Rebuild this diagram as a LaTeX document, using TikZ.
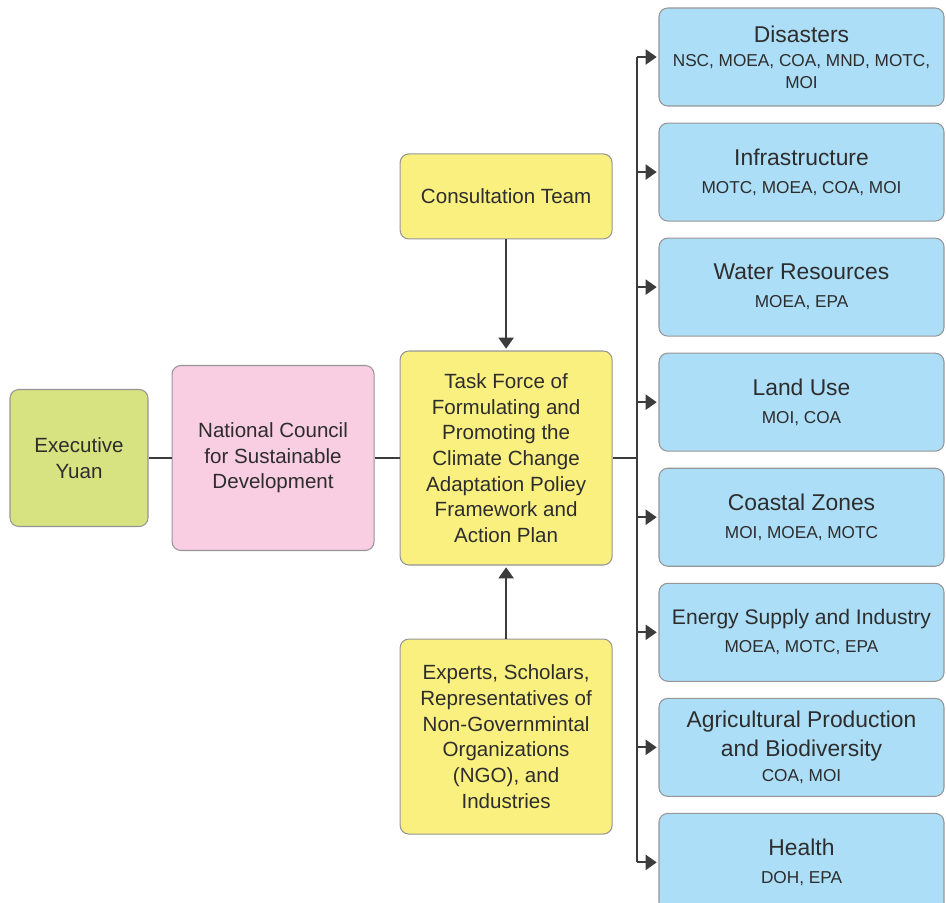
\documentclass[tikz,border=0pt]{standalone}
\usepackage{fontspec}
\setmainfont{Liberation Sans}
\usetikzlibrary{positioning}
\usetikzlibrary{arrows.meta}

\definecolor{eygreen}{RGB}{214,227,128}
\definecolor{ncpink}{RGB}{249,205,226}
\definecolor{tfyellow}{RGB}{250,240,128}
\definecolor{areablue}{RGB}{173,222,247}
\definecolor{boxedge}{RGB}{150,150,150}
\definecolor{txtgray}{RGB}{45,45,45}
\definecolor{linegray}{RGB}{60,60,60}

\newcommand{\areatitle}[1]{{\fontsize{13}{16}\selectfont #1}}

\begin{document}
\begin{tikzpicture}[>={Triangle[length=2.2mm,width=3mm]},
	box/.style={rectangle,rounded corners=5pt,draw=boxedge,line width=0.6pt,
		text=txtgray,align=center,font=\fontsize{11.7}{14.6}\selectfont},
	area/.style={box,fill=areablue,minimum width=5.7cm,minimum height=1.96cm,
		font=\fontsize{9.8}{12}\selectfont},
	link/.style={every edge/.style={draw=linegray,line width=1.1pt}},
	feed/.style={->,shorten >=1pt}]

	\useasboundingbox (0,0) rectangle (18.92,-18.04);

	\node[box,fill=eygreen,minimum width=2.76cm,minimum height=2.74cm] (ey) at (1.58,-9.16) {Executive\\Yuan};
	\node[box,fill=ncpink,minimum width=4.04cm,minimum height=3.70cm] (nc) [right=0.46cm of ey] {National Council\\for Sustainable\\Development};
	\node[box,fill=tfyellow,minimum width=4.24cm,minimum height=4.28cm] (tf) [right=0.5cm of nc] {Task Force of\\Formulating and\\Promoting the\\Climate Change\\Adaptation Poliey\\Framework and\\Action Plan};
	\node[box,fill=tfyellow,minimum width=4.24cm,minimum height=1.70cm] (ct) [above=2.22cm of tf] {Consultation Team};
	\node[box,fill=tfyellow,minimum width=4.24cm,minimum height=3.90cm] (ex) [below=1.46cm of tf] {Experts, Scholars,\\Representatives of\\Non-Governmintal\\Organizations\\(NGO), and\\Industries};

	\node[area] (dis) at (16.03,-1.14) {\areatitle{Disasters}\\[2pt]NSC, MOEA, COA, MND, MOTC,\\MOI};
	\node[area] (inf) [below=0.32cm of dis] {\areatitle{Infrastructure}\\[4pt]MOTC, MOEA, COA, MOI};
	\node[area] (wat) [below=0.32cm of inf] {\areatitle{Water Resources}\\[4pt]MOEA, EPA};
	\node[area] (lu) [below=0.32cm of wat] {\areatitle{Land Use}\\[4pt]MOI, COA};
	\node[area] (cz) [below=0.32cm of lu] {\areatitle{Coastal Zones}\\[4pt]MOI, MOEA, MOTC};
	\node[area] (en) [below=0.32cm of cz] {{\fontsize{12}{16}\selectfont Energy Supply and Industry}\\[4pt]MOEA, MOTC, EPA};
	\node[area] (ag) [below=0.32cm of en] {\areatitle{Agricultural Production}\\[3.5pt]\areatitle{and Biodiversity}\\[2.5pt]COA, MOI};
	\node[area] (hl) [below=0.32cm of ag] {\areatitle{Health}\\[4pt]DOH, EPA};

	\coordinate[right=0.48cm of tf] (bus);

	\path[link]
	(ey) edge (nc)
	(nc) edge (tf)
	(tf.east) edge (bus)
	(ct) edge[feed] (tf)
	(ex) edge[feed] (tf)
	(bus |- dis.west) edge (bus |- hl.west)
	(bus |- dis.west) edge[feed] (dis)
	(bus |- inf.west) edge[feed] (inf)
	(bus |- wat.west) edge[feed] (wat)
	(bus |- lu.west) edge[feed] (lu)
	(bus |- cz.west) edge[feed] (cz)
	(bus |- en.west) edge[feed] (en)
	(bus |- ag.west) edge[feed] (ag)
	(bus |- hl.west) edge[feed] (hl);
\end{tikzpicture}
\end{document}
